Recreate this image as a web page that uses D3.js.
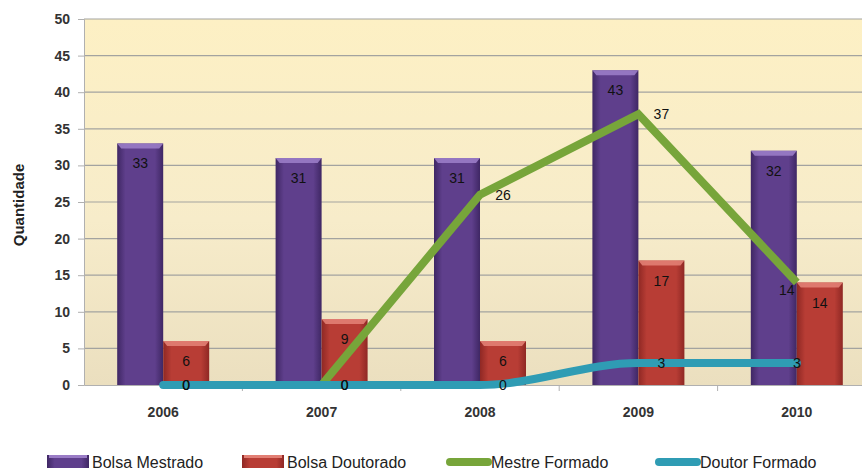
<!DOCTYPE html>
<html>
<head>
<meta charset="utf-8">
<script src="https://cdn.jsdelivr.net/npm/d3@7"></script>
<style>
  html, body { margin: 0; padding: 0; background: #ffffff; }
  svg { display: block; }
  text { font-family: "Liberation Sans", Arial, sans-serif; }
</style>
</head>
<body>
<svg id="chart" width="862" height="470"></svg>
<script>
// Categories (years)
const years = ["2006", "2007", "2008", "2009", "2010"];
// Bar series
const bolsaMestrado = [33, 31, 31, 43, 32];
const bolsaDoutorado = [6, 9, 6, 17, 14];
// Line series
const mestreFormado = [0, 0, 26, 37, 14];
const doutorFormado = [0, 0, 0, 3, 3];
// Axis ticks
const yTicks = [0, 5, 10, 15, 20, 25, 30, 35, 40, 45, 50];
const seriesNames = ["Bolsa Mestrado", "Bolsa Doutorado", "Mestre Formado", "Doutor Formado"];

const svg = d3.select("#chart");
const plot = { left: 84, right: 876, top: 19, bottom: 385 };

const x = d3.scaleBand().domain(years).range([plot.left, plot.right]).paddingInner(0).paddingOuter(0);
const y = d3.scaleLinear().domain([0, 50]).range([plot.bottom, plot.top]);
const barW = 46;

const defs = svg.append("defs");

// plot background
const bg = defs.append("linearGradient").attr("id", "bgGrad").attr("x1", 0).attr("y1", 0).attr("x2", 0).attr("y2", 1);
bg.append("stop").attr("offset", "0%").attr("stop-color", "#fdf0c4");
bg.append("stop").attr("offset", "55%").attr("stop-color", "#f7ecca");
bg.append("stop").attr("offset", "100%").attr("stop-color", "#ebdfbf");

function barGradient(id, edge, mid) {
  const g = defs.append("linearGradient").attr("id", id).attr("x1", 0).attr("y1", 0).attr("x2", 1).attr("y2", 0);
  g.append("stop").attr("offset", "0%").attr("stop-color", edge);
  g.append("stop").attr("offset", "18%").attr("stop-color", mid);
  g.append("stop").attr("offset", "82%").attr("stop-color", mid);
  g.append("stop").attr("offset", "100%").attr("stop-color", edge);
}
barGradient("gradM", "#3f2764", "#5f3f8c");
barGradient("gradD", "#8f2824", "#b83d35");

const capColor = { gradM: "#9a7cc6", gradD: "#e27f74" };

svg.append("rect")
  .attr("x", plot.left).attr("y", plot.top)
  .attr("width", plot.right - plot.left).attr("height", plot.bottom - plot.top)
  .attr("fill", "url(#bgGrad)");

// gridlines
svg.append("g").selectAll("line").data(yTicks.filter(t => t > 0)).join("line")
  .attr("x1", plot.left).attr("x2", plot.right)
  .attr("y1", d => y(d)).attr("y2", d => y(d))
  .attr("stroke", "#a3a3a0").attr("stroke-width", 1.2);

// y axis
const yAxis = svg.append("g").attr("transform", `translate(${plot.left},0)`)
  .call(d3.axisLeft(y).tickValues(yTicks).tickSize(6).tickPadding(8));
yAxis.select(".domain").attr("stroke", "#b0b0b0");
yAxis.selectAll(".tick line").attr("stroke", "#b0b0b0");
yAxis.selectAll(".tick text").attr("font-size", 14).attr("font-weight", "bold").attr("fill", "#333")
  .attr("font-family", "'Liberation Sans', Arial, sans-serif");

// x axis
const xAxis = svg.append("g").attr("transform", `translate(0,${plot.bottom})`)
  .call(d3.axisBottom(x).tickSize(0).tickPadding(22));
xAxis.select(".domain").attr("stroke", "#b0b0b0");
xAxis.selectAll(".tick text").attr("font-size", 14).attr("font-weight", "bold").attr("fill", "#333")
  .attr("font-family", "'Liberation Sans', Arial, sans-serif");
// tick marks between categories
svg.append("g").selectAll("line").data(years.slice(1)).join("line")
  .attr("x1", d => x(d)).attr("x2", d => x(d))
  .attr("y1", plot.bottom).attr("y2", plot.bottom + 6)
  .attr("stroke", "#b0b0b0");

// y title
svg.append("text")
  .attr("transform", `translate(24,${(plot.top + plot.bottom) / 2 + 3}) rotate(-90)`)
  .attr("text-anchor", "middle").attr("font-size", 15).attr("font-weight", "bold").attr("fill", "#222")
  .text("Quantidade");

// bars with bevelled top
function drawBars(values, offset, grad) {
  const g = svg.append("g");
  values.forEach((v, i) => {
    const cx = x(years[i]) + x.bandwidth() / 2;
    const x0 = cx + offset;
    const top = y(v);
    g.append("rect").attr("x", x0).attr("y", top).attr("width", barW).attr("height", y(0) - top)
      .attr("fill", `url(#${grad})`);
    g.append("path")
      .attr("d", `M${x0},${top} L${x0 + barW},${top} L${x0 + barW - 4},${top + 5} L${x0 + 4},${top + 5} Z`)
      .attr("fill", capColor[grad]).attr("opacity", 0.9);
    g.append("text").attr("x", x0 + barW / 2).attr("y", top + 25)
      .attr("text-anchor", "middle").attr("font-size", 14).attr("fill", "#111")
      .text(v);
  });
}
drawBars(bolsaMestrado, -barW, "gradM");
drawBars(bolsaDoutorado, 0, "gradD");

const cxOf = i => x(years[i]) + x.bandwidth() / 2;

// lines
const mestreLine = d3.line().x((d, i) => cxOf(i)).y(d => y(d)).curve(d3.curveLinear);
const doutorLine = d3.line().x((d, i) => cxOf(i)).y(d => y(d)).curve(d3.curveMonotoneX);

svg.append("path").datum(mestreFormado).attr("d", mestreLine)
  .attr("fill", "none").attr("stroke", "#77a53a").attr("stroke-width", 8).attr("stroke-linejoin", "miter");
svg.append("path").datum(doutorFormado).attr("d", doutorLine)
  .attr("fill", "none").attr("stroke", "#2f9cb4").attr("stroke-width", 8).attr("stroke-linecap", "round");

// line value labels
function lineLabels(values) {
  const last = values.length - 1;
  svg.append("g").selectAll("text").data(values).join("text")
    .attr("x", (d, i) => cxOf(i) + (i === last ? (d > 5 ? -10 : 0) : 23))
    .attr("y", (d, i) => y(d) + (i === last && d > 5 ? 12 : 5))
    .attr("text-anchor", "middle").attr("font-size", 14).attr("fill", "#111")
    .text(d => d);
}
lineLabels(mestreFormado);
lineLabels(doutorFormado);

// legend
const legend = svg.append("g").attr("transform", "translate(0,462)");
const items = [
  { name: seriesNames[0], type: "bar", grad: "gradM", x: 47 },
  { name: seriesNames[1], type: "bar", grad: "gradD", x: 242 },
  { name: seriesNames[2], type: "line", color: "#77a53a", x: 446 },
  { name: seriesNames[3], type: "line", color: "#2f9cb4", x: 655 }
];
items.forEach(it => {
  if (it.type === "bar") {
    legend.append("rect").attr("x", it.x).attr("y", -7).attr("width", 42).attr("height", 13)
      .attr("fill", `url(#${it.grad})`);
    legend.append("rect").attr("x", it.x + 2).attr("y", -7).attr("width", 38).attr("height", 3)
      .attr("fill", capColor[it.grad]);
  } else {
    legend.append("line").attr("x1", it.x + 4).attr("x2", it.x + 42).attr("y1", 0).attr("y2", 0)
      .attr("stroke", it.color).attr("stroke-width", 8).attr("stroke-linecap", "round");
  }
  legend.append("text").attr("x", it.x + 45).attr("y", 6).attr("font-size", 16).attr("fill", "#222")
    .text(it.name);
});
</script>
</body>
</html>
